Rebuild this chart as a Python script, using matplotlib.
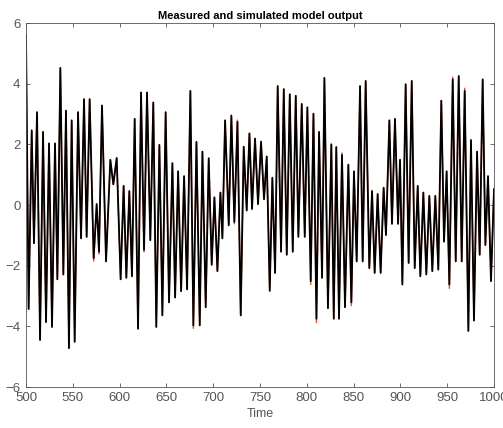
"""
Measured vs simulated model output (time 500-1000)
Values read off the reference picture at the turning points of the signal.
"""

import matplotlib
matplotlib.use("Agg")
import matplotlib.pyplot as plt

# turning points of the simulated output
time_pts = [
    500.0, 502.8, 506.1, 508.5, 511.8, 515.0, 518.2, 521.4, 524.6, 527.8,
    531.0, 533.5, 536.7, 539.9, 542.7, 545.9, 548.8, 552.0, 555.6, 558.8,
    562.0, 564.8, 568.0, 572.3, 575.5, 578.0, 581.2, 585.5, 590.1, 593.3,
    596.9, 601.1, 604.3, 607.2, 610.4, 613.2, 616.1, 619.7, 622.9, 626.1,
    629.3, 632.8, 636.0, 639.2, 642.5, 645.7, 649.2, 652.8, 656.4, 659.3,
    662.5, 665.7, 668.9, 672.1, 675.6, 678.8, 682.1, 685.6, 688.5, 692.0,
    695.2, 698.4, 701.3, 704.5, 707.7, 709.8, 712.7, 716.6, 719.4, 722.6,
    725.9, 729.4, 732.6, 735.8, 738.7, 741.5, 744.7, 747.9, 751.1, 754.3,
    757.2, 760.4, 763.2, 766.1, 768.9, 772.5, 775.4, 778.6, 781.8, 785.0,
    788.2, 791.0, 794.6, 797.8, 800.6, 804.2, 807.1, 810.3, 813.1, 816.3,
    818.8, 822.6, 826.2, 828.8, 831.5, 834.4, 837.6, 840.8, 844.4, 847.6,
    850.4, 853.3, 856.9, 859.7, 862.9, 866.8, 869.7, 872.5, 875.7, 878.9,
    882.1, 884.6, 888.2, 891.0, 894.2, 897.5, 899.6, 902.1, 905.6, 908.8,
    912.1, 915.3, 918.5, 921.3, 924.5, 927.7, 930.9, 934.1, 937.3, 940.5,
    943.7, 946.6, 949.4, 952.3, 955.9, 959.1, 962.3, 965.5, 968.7, 972.6,
    975.4, 978.6, 981.9, 984.7, 987.9, 990.8, 993.6, 996.8, 1000.0,
]

sim_vals = [
    5.6, -3.43, 2.46, -1.26, 3.06, -4.45, 2.41, -3.86, 2.03, -4.02,
    2.03, -2.45, 4.52, -2.29, 3.11, -4.72, 2.79, -4.51, 3.06, -1.10,
    3.49, -1.05, 3.49, -1.75, 0.03, -1.54, 3.28, -1.86, 1.49, 0.68,
    1.55, -2.45, 0.63, -2.40, 0.46, -2.35, 2.84, -4.08, 3.71, -1.48,
    3.71, -1.16, 3.38, -4.02, 1.98, -3.64, 3.06, -3.21, 1.38, -3.05,
    1.11, -2.84, 0.95, -2.78, 3.76, -3.97, 2.08, -3.97, 1.76, -3.37,
    1.54, -1.97, 0.25, -2.18, 0.41, -1.10, 2.79, -0.67, 2.95, -0.56,
    2.74, -3.64, 1.92, -0.18, 2.36, -0.13, 2.19, 0.03, 2.09, 0.19,
    1.60, -2.83, 0.90, -2.24, 3.92, -1.54, 3.82, -1.64, 3.65, -1.54,
    3.60, -1.05, 3.33, -1.05, 3.22, -2.51, 3.01, -3.75, 2.41, -2.40,
    4.19, -3.40, 2.00, -3.75, 1.91, -3.75, 1.65, -3.37, 1.33, -3.21,
    1.11, -1.86, 3.92, -1.86, 4.09, -2.08, 0.46, -2.24, 0.36, -2.24,
    0.57, -0.99, 2.79, -0.62, 2.84, -0.62, 1.49, -2.62, 3.98, -1.91,
    4.09, -2.08, 0.63, -2.35, 0.41, -2.29, 0.30, -2.18, 0.30, -2.13,
    3.44, -1.21, 1.11, -2.62, 4.14, -1.86, 4.25, -1.86, 3.76, -4.15,
    2.14, -3.81, 1.76, -1.64, 4.14, -1.32, 0.95, -2.51, 0.52,
]

# measured output: same as simulated except where the red line peeks out
meas_diff = {
    572.3: -1.85, 578.0: -1.62, 626.1: -1.55, 678.8: -4.07,
    722.6: -0.62, 725.9: 2.80, 804.2: -2.62, 810.3: -3.88,
    837.6: 1.72, 847.6: -3.32, 952.3: -2.75, 955.9: 4.22, 968.7: 3.85,
}
meas_vals = [meas_diff.get(t, v) for t, v in zip(time_pts, sim_vals)]

x_ticks = list(range(500, 1001, 50))
y_ticks = list(range(-6, 7, 2))

plt.rcParams["font.family"] = ["Liberation Sans", "DejaVu Sans"]

fig = plt.figure(figsize=(5.03, 4.28), dpi=100)
ax = fig.add_axes([26 / 503, 1 - 387 / 428, 468 / 503, 364 / 428])

ax.plot(time_pts, meas_vals, color="#e8553a", linewidth=1.0)
ax.plot(time_pts, sim_vals, color="black", linewidth=1.3)

ax.set_xlim(500, 1000)
ax.set_ylim(-6, 6)
ax.set_xticks(x_ticks)
ax.set_yticks(y_ticks)
ax.tick_params(direction="in", length=3, width=0.6, labelsize=9.5,
               colors="#555555", top=True, right=True)
ax.tick_params(axis="x", pad=3.5)
ax.tick_params(axis="y", pad=4)
for s in ax.spines.values():
    s.set_color("#555555")
    s.set_linewidth(0.6)

ax.set_title("Measured and simulated model output", fontsize=8,
             fontweight="bold", pad=3)
ax.set_xlabel("Time", fontsize=9, color="#555555", labelpad=3)

fig.savefig("out.png", dpi=100)
